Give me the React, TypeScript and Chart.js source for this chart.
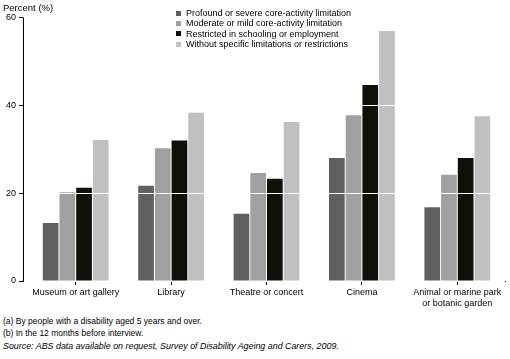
import React, { useEffect, useRef } from "react";
import { Chart, registerables } from "chart.js";

Chart.register(...registerables);

const categories: (string | string[])[] = [
  "Museum or art gallery",
  "Library",
  "Theatre or concert",
  "Cinema",
  ["Animal or marine park", "or botanic garden"],
];
const seriesNames = [
  "Profound or severe core-activity limitation",
  "Moderate or mild core-activity limitation",
  "Restricted in schooling or employment",
  "Without specific limitations or restrictions",
];
const profound = [13.2, 21.7, 15.3, 28.0, 16.8];
const moderate = [20.2, 30.2, 24.6, 37.7, 24.2];
const restricted = [21.2, 32.0, 23.3, 44.6, 28.0];
const without = [32.1, 38.3, 36.2, 56.9, 37.5];
const yTicks = [0, 20, 40, 60];
const colors = ["#606060", "#a0a0a0", "#10100a", "#c0c0c0"];
const footnotes = [
  "(a) By people with a disability aged 5 years and over.",
  "(b) In the 12 months before interview.",
];

const FONT = "'Liberation Sans', Arial, sans-serif";

export default function App() {
  const ref = useRef<HTMLCanvasElement | null>(null);
  useEffect(() => {
    document.body.style.margin = "0";
    const canvas = ref.current!;
    const axisPlugin = {
      id: "yAxisLine",
      afterDraw(chart: any) {
        const ctx = chart.ctx;
        const area = chart.chartArea;
        const y = chart.scales.y;
        const x0 = Math.round(area.left) - 5;
        ctx.save();
        ctx.fillStyle = "#000000";
        ctx.fillRect(x0, area.top, 1, area.bottom - area.top + 1);
        for (const t of yTicks) {
          const py = Math.round(y.getPixelForValue(t));
          ctx.fillRect(x0 - 4, py, 4, 1);
        }
        ctx.restore();
      },
    };
    const chart = new Chart(canvas, {
      type: "bar",
      data: {
        labels: categories,
        datasets: [profound, moderate, restricted, without].map((d, i) => ({
          label: seriesNames[i],
          data: d,
          backgroundColor: colors[i],
          borderWidth: 0,
          barPercentage: 0.94,
          categoryPercentage: 0.7,
        })),
      },
      options: {
        animation: false,
        responsive: false,
        maintainAspectRatio: false,
        layout: { padding: { top: 17, right: 5, left: 0, bottom: 0 } },
        plugins: {
          legend: { display: false },
          tooltip: { enabled: false },
        },
        scales: {
          x: {
            offset: true,
            afterFit: (s: any) => {
              s.height = 29;
            },
            grid: {
              display: true,
              drawOnChartArea: false,
              offset: false,
              tickLength: 4,
              color: "#000000",
              tickColor: "#000000",
            },
            border: { display: true, color: "#000", width: 1 },
            ticks: {
              color: "#000",
              font: { family: FONT, size: 9 },
              padding: 2,
              maxRotation: 0,
              autoSkip: false,
            },
          },
          y: {
            min: 0,
            max: 60,
            afterFit: (s: any) => {
              s.width = 28;
            },
            afterBuildTicks: (s: any) => {
              s.ticks = yTicks.map((v) => ({ value: v }));
            },
            grid: {
              color: "#ffffff",
              lineWidth: 1,
              drawTicks: false,
              z: 1,
            },
            border: { display: false },
            ticks: {
              color: "#000",
              font: { family: FONT, size: 9 },
              padding: 12,
            },
          },
        },
      },
      plugins: [axisPlugin],
    });
    return () => chart.destroy();
  }, []);

  return (
    <div style={{ position: "relative", width: 510, height: 359, fontFamily: FONT, color: "#000", background: "#fff" }}>
      <canvas ref={ref} width={510} height={310} style={{ position: "absolute", left: 0, top: 0 }} />
      <div style={{ position: "absolute", left: 3, top: 2, fontSize: 9.5 }}>Percent (%)</div>
      <div style={{ position: "absolute", left: 176, top: 8 }}>
        {seriesNames.map((n, i) => (
          <div key={n} style={{ display: "flex", alignItems: "center", height: 10.3, fontSize: 9, whiteSpace: "nowrap" }}>
            <span style={{ display: "inline-block", width: 5, height: 5, background: colors[i], marginRight: 5 }} />
            {n}
          </div>
        ))}
      </div>
      <div style={{ position: "absolute", left: 3, top: 315, fontSize: 8.5, lineHeight: "12px" }}>
        {footnotes.map((f) => (
          <div key={f}>{f}</div>
        ))}
        <div style={{ fontStyle: "italic", marginTop: 1, fontSize: 8.9 }}>
          Source: ABS data available on request, Survey of Disability Ageing and Carers, 2009.
        </div>
      </div>
    </div>
  );
}
